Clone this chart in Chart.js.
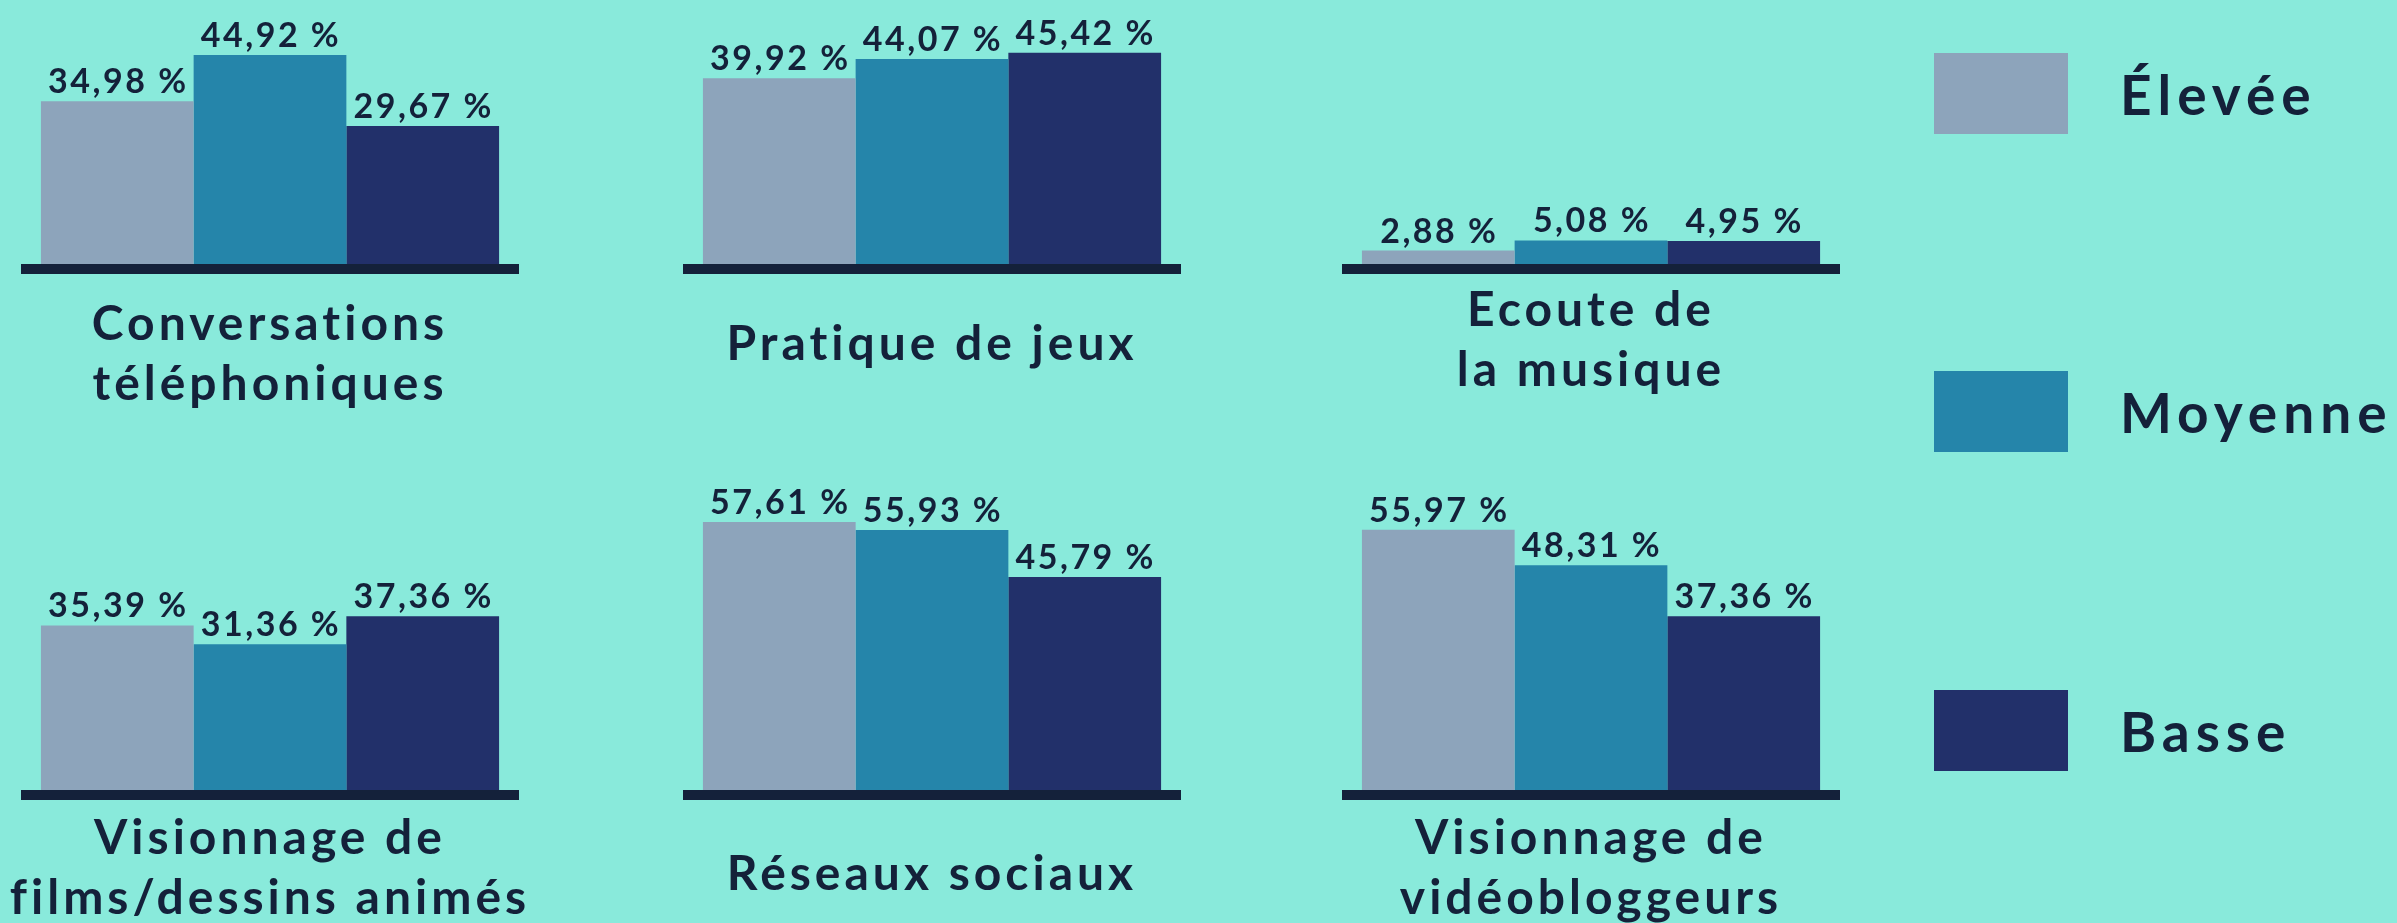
<!DOCTYPE html>
<html>
<head>
<meta charset="utf-8">
<script src="https://cdn.jsdelivr.net/npm/chart.js@4/dist/chart.umd.min.js"></script>
<style>
    html, body { margin: 0; padding: 0; }
    body {
        width: 2397px;
        height: 923px;
        background: #89eadb;
        position: relative;
        overflow: hidden;
        font-family: Lato, "Noto Sans", sans-serif;
    }
    .panel { position: absolute; }
    .legend-item { position: absolute; left: 1934px; height: 81px; }
    .legend-item .swatch { position: absolute; left: 0; top: 0; width: 134px; height: 81px; }
    .legend-item .name {
        position: absolute;
        left: 186px;
        top: 50%;
        transform: translateY(-50%);
        font-weight: 700;
        font-size: 55px;
        letter-spacing: 6px;
        color: #14213a;
        white-space: nowrap;
    }
</style>
</head>
<body>

<script>
// Activities (one small chart each)
const categories = [
    ['Conversations', 'téléphoniques'],
    ['Pratique de jeux'],
    ['Ecoute de', 'la musique'],
    ['Visionnage de', 'films/dessins animés'],
    ['Réseaux sociaux'],
    ['Visionnage de', 'vidéobloggeurs']
];

// Series names (legend) and values in %
const seriesNames = ['Élevée', 'Moyenne', 'Basse'];
const elevee  = [34.98, 39.92, 2.88, 35.39, 57.61, 55.97];
const moyenne = [44.92, 44.07, 5.08, 31.36, 55.93, 48.31];
const basse   = [29.67, 45.42, 4.95, 37.36, 45.79, 37.36];

const seriesColors = ['#8da4bb', '#2585aa', '#22306a'];
const inkColor = '#14213a';

// px per percentage point, same for every panel
const PX_PER_PCT = 4.65;

// panel placement (left of canvas, top of canvas, canvas height, x axis height, label padding)
const panelLayout = [
    { left: 1,    top: 0,   height: 470, axisH: 206, pad: 31 },
    { left: 663,  top: 0,   height: 470, axisH: 206, pad: 51 },
    { left: 1322, top: 0,   height: 470, axisH: 206, pad: 17 },
    { left: 1,    top: 480, height: 443, axisH: 133, pad: 19 },
    { left: 663,  top: 480, height: 443, axisH: 133, pad: 55 },
    { left: 1322, top: 480, height: 443, axisH: 133, pad: 19 }
];
const CANVAS_W = 538;
const SIDE_PAD = 20;

function formatPct(v) {
    return v.toFixed(2).replace('.', ',') + ' %';
}

// letter spacing for the category labels
const spacingPlugin = {
    id: 'spacing',
    beforeDraw(chart) {
        chart.ctx.letterSpacing = '4px';
    }
};

// thick base line + value labels above bars
const barDecorPlugin = {
    id: 'barDecor',
    afterDatasetsDraw(chart) {
        const ctx = chart.ctx;
        const area = chart.chartArea;
        const y0 = chart.scales.y.getPixelForValue(0);

        ctx.save();
        ctx.fillStyle = inkColor;
        ctx.fillRect(area.left, y0, area.right - area.left, 10);

        ctx.font = 'bold 34px Lato, "Noto Sans", sans-serif';
        ctx.letterSpacing = '2.5px';
        ctx.textAlign = 'center';
        ctx.textBaseline = 'alphabetic';
        chart.data.datasets.forEach((ds, i) => {
            const meta = chart.getDatasetMeta(i);
            meta.data.forEach((bar, j) => {
                ctx.fillText(formatPct(ds.data[j]), bar.x + 1, bar.y - 8);
            });
        });
        ctx.restore();
    }
};

const allSeries = [elevee, moyenne, basse];

categories.forEach((cat, idx) => {
    const lay = panelLayout[idx];
    const div = document.createElement('div');
    div.className = 'panel';
    div.style.left = lay.left + 'px';
    div.style.top = lay.top + 'px';
    const canvas = document.createElement('canvas');
    canvas.width = CANVAS_W;
    canvas.height = lay.height;
    div.appendChild(canvas);
    document.body.appendChild(div);

    const plotH = lay.height - lay.axisH;

    new Chart(canvas, {
        type: 'bar',
        data: {
            labels: [cat],
            datasets: seriesNames.map((name, s) => ({
                label: name,
                data: [allSeries[s][idx]],
                backgroundColor: seriesColors[s],
                borderWidth: 0,
                categoryPercentage: 0.92,
                barPercentage: 1.0
            }))
        },
        options: {
            responsive: false,
            animation: false,
            layout: { padding: { left: SIDE_PAD, right: SIDE_PAD, top: 0, bottom: 0 } },
            plugins: {
                legend: { display: false },
                tooltip: { enabled: false }
            },
            scales: {
                x: {
                    grid: { display: false, drawTicks: false },
                    border: { display: false },
                    afterFit: (scale) => { scale.height = lay.axisH; },
                    ticks: {
                        color: inkColor,
                        padding: lay.pad,
                        maxRotation: 0,
                        autoSkip: false,
                        font: {
                            family: 'Lato, "Noto Sans", sans-serif',
                            size: 48,
                            weight: 'bold',
                            lineHeight: 1.25
                        }
                    }
                },
                y: {
                    display: false,
                    min: 0,
                    max: plotH / PX_PER_PCT
                }
            }
        },
        plugins: [spacingPlugin, barDecorPlugin]
    });
});

// legend on the right
const legendTops = [53, 371, 690];
seriesNames.forEach((name, s) => {
    const item = document.createElement('div');
    item.className = 'legend-item';
    item.style.top = legendTops[s] + 'px';
    const sw = document.createElement('div');
    sw.className = 'swatch';
    sw.style.background = seriesColors[s];
    const txt = document.createElement('div');
    txt.className = 'name';
    txt.textContent = name;
    item.appendChild(sw);
    item.appendChild(txt);
    document.body.appendChild(item);
});
</script>
</body>
</html>
